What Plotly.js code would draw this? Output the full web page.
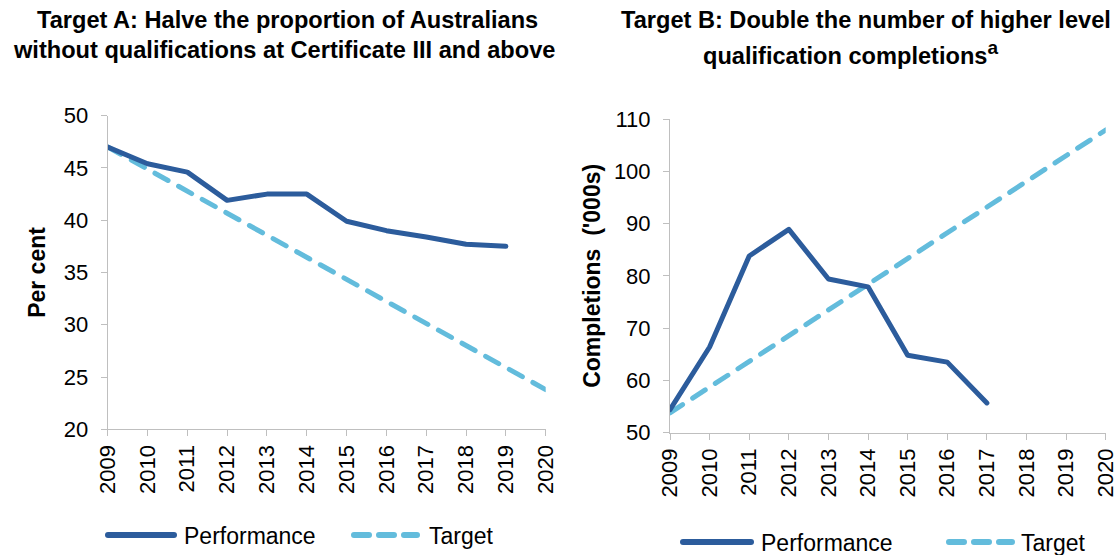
<!DOCTYPE html>
<html>
<head>
<meta charset="utf-8">
<script src="https://cdn.plot.ly/plotly-3.0.1.min.js"></script>
<style>
  html, body { margin: 0; padding: 0; background: #ffffff; }
  #chart { width: 1120px; height: 555px; }
  .scatterlayer .js-line { stroke-linecap: round; stroke-linejoin: round; }
  .shapelayer path { stroke-linecap: round; }
</style>
</head>
<body>
<div id="chart"></div>
<script>
// ---- Data ----
const years = [2009, 2010, 2011, 2012, 2013, 2014, 2015, 2016, 2017, 2018, 2019, 2020];
const yearLabels = ["2009", "2010", "2011", "2012", "2013", "2014", "2015", "2016", "2017", "2018", "2019", "2020"];

// Target A: per cent without Cert III and above
const aPerfYears = [2009, 2010, 2011, 2012, 2013, 2014, 2015, 2016, 2017, 2018, 2019];
const aPerformance = [47.0, 45.4, 44.6, 41.9, 42.5, 42.5, 39.9, 39.0, 38.4, 37.7, 37.5];
const aTarget = [47.0, 44.9, 42.8, 40.7, 38.6, 36.5, 34.4, 32.3, 30.2, 28.1, 26.0, 23.8];

// Target B: higher level qualification completions ('000s)
const bPerfYears = [2009, 2010, 2011, 2012, 2013, 2014, 2015, 2016, 2017];
const bPerformance = [54.4, 66.4, 83.8, 88.9, 79.4, 77.9, 64.8, 63.5, 55.7];
const bTarget = [53.8, 58.7, 63.6, 68.5, 73.4, 78.3, 83.2, 88.1, 93.0, 97.9, 102.8, 107.9];

const titleA = ["Target A: Halve the proportion of Australians", "without qualifications at Certificate III and above"];
const titleB = ["Target B: Double the number of higher level", "qualification completions"];
const titleBNote = "a";
const yTitleA = "Per cent";
const yTitleB = "Completions  ('000s)";
const seriesNames = ["Performance", "Target"];

// ---- Styling ----
const W = 1120, H = 555;
const px = x => x / W;
const py = y => 1 - y / H;
const FONT = "Liberation Sans, Arial, sans-serif";
const perfColor = "#2C5C9C";
const targColor = "#63BCDC";
const axisColor = "#BFBFBF";
const dashStyle = "15px,12px";
const TITLE_SIZE = 23.6;
const LEG_SIZE = 23;

const traces = [
  { x: aPerfYears, y: aPerformance, type: "scatter", mode: "lines", name: seriesNames[0],
    line: { color: perfColor, width: 5 }, xaxis: "x", yaxis: "y", showlegend: false },
  { x: years, y: aTarget, type: "scatter", mode: "lines", name: seriesNames[1],
    line: { color: targColor, width: 5, dash: dashStyle }, xaxis: "x", yaxis: "y", showlegend: false },
  { x: bPerfYears, y: bPerformance, type: "scatter", mode: "lines", name: seriesNames[0],
    line: { color: perfColor, width: 5 }, xaxis: "x2", yaxis: "y2", showlegend: false },
  { x: years, y: bTarget, type: "scatter", mode: "lines", name: seriesNames[1],
    line: { color: targColor, width: 5, dash: dashStyle }, xaxis: "x2", yaxis: "y2", showlegend: false }
];
const ordered = [traces[1], traces[0], traces[3], traces[2]];

const xCommon = {
  range: [years[0], years[years.length - 1]],
  tickmode: "array", tickvals: years, ticktext: yearLabels,
  tickangle: -90, ticks: "outside", ticklen: 6, tickcolor: axisColor, tickwidth: 1,
  showline: true, linecolor: axisColor, linewidth: 1, showgrid: false, zeroline: false,
  tickfont: { family: FONT, size: 22, color: "#000000" }, fixedrange: true
};
const yCommon = {
  ticks: "outside", ticklen: 6, tickcolor: axisColor, tickwidth: 1,
  showline: true, linecolor: axisColor, linewidth: 1, showgrid: false, zeroline: false,
  tickfont: { family: FONT, size: 22, color: "#000000" }, fixedrange: true,
  ticklabelstandoff: 8
};

function ann(text, x, y, size, anchor) {
  return { text: text, x: px(x), y: py(y), xref: "paper", yref: "paper",
    xanchor: anchor || "center", yanchor: "middle", showarrow: false,
    font: { family: FONT, size: size, color: "#000" } };
}

const annotations = [
  ann("<b>" + titleA[0] + "</b>", 287, 20, TITLE_SIZE),
  ann("<b>" + titleA[1] + "</b>", 284, 50, TITLE_SIZE),
  ann("<b>" + titleB[0] + "</b>", 866, 20, TITLE_SIZE),
  ann("<b>" + titleB[1] + "<sup><span style=\"font-size:19px\">" + titleBNote + "</span></sup></b>", 850, 53, TITLE_SIZE),
  ann(seriesNames[0], 182, 536, LEG_SIZE, "left"),
  ann(seriesNames[1], 427, 536, LEG_SIZE, "left"),
  ann(seriesNames[0], 759, 543, LEG_SIZE, "left"),
  ann(seriesNames[1], 1019, 543, LEG_SIZE, "left")
];

const legendShapes = [
  { type: "line", xref: "paper", yref: "paper", x0: px(108), x1: px(174), y0: py(535), y1: py(535),
    line: { color: perfColor, width: 6 } },
  { type: "line", xref: "paper", yref: "paper", x0: px(354), x1: px(417), y0: py(535), y1: py(535),
    line: { color: targColor, width: 6, dash: "15px,10px" } },
  { type: "line", xref: "paper", yref: "paper", x0: px(683), x1: px(751), y0: py(542), y1: py(542),
    line: { color: perfColor, width: 6 } },
  { type: "line", xref: "paper", yref: "paper", x0: px(949), x1: px(1012), y0: py(542), y1: py(542),
    line: { color: targColor, width: 6, dash: "15px,10px" } }
];

const layout = {
  width: W, height: H,
  margin: { l: 0, r: 0, t: 0, b: 0 },
  paper_bgcolor: "#ffffff", plot_bgcolor: "#ffffff",
  showlegend: false,
  font: { family: FONT, color: "#000000" },
  xaxis: Object.assign({}, xCommon, { domain: [px(107.7), px(545.7)], anchor: "y" }),
  yaxis: Object.assign({}, yCommon, { domain: [py(429.3), py(115.7)], range: [20, 50], dtick: 5, tick0: 20, anchor: "x",
    title: { text: "<b>" + yTitleA + "</b>", font: { family: FONT, size: 23, color: "#000" }, standoff: 11 } }),
  xaxis2: Object.assign({}, xCommon, { domain: [px(670), px(1105.7)], anchor: "y2" }),
  yaxis2: Object.assign({}, yCommon, { domain: [py(432.7), py(119)], range: [50, 110], dtick: 10, tick0: 50, anchor: "x2",
    title: { text: "<b>" + yTitleB + "</b>", font: { family: FONT, size: 23, color: "#000" }, standoff: 6 } }),
  annotations: annotations,
  shapes: legendShapes
};

Plotly.newPlot("chart", ordered, layout, { displayModeBar: false, staticPlot: true });
</script>
</body>
</html>
